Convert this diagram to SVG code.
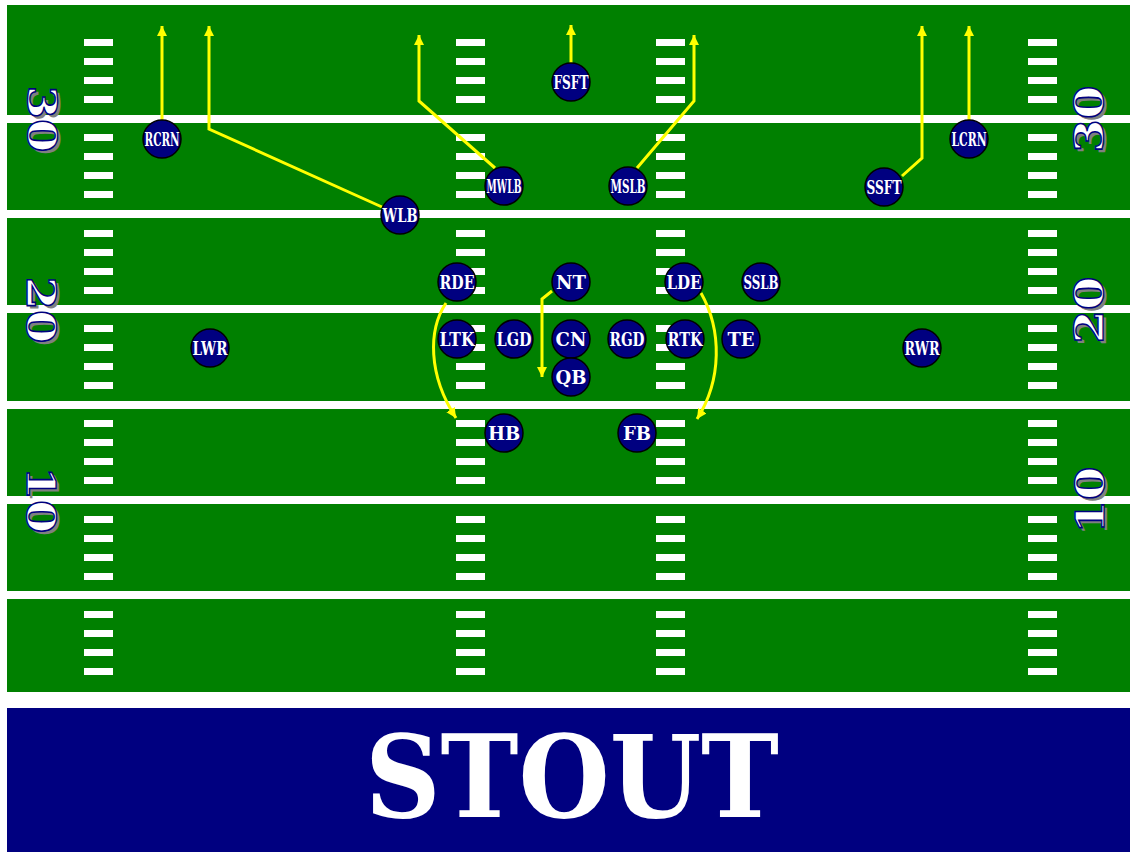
<svg xmlns="http://www.w3.org/2000/svg" xmlns:xlink="http://www.w3.org/1999/xlink" width="1130" height="852" viewBox="0 0 1130 852">
<style>
.field{fill:#008000}
.line{fill:#ffffff}
.hash{fill:#ffffff}
.num{font-family:"DejaVu Serif","Liberation Serif",serif;font-weight:bold;font-size:40px;text-anchor:middle}
.numf{fill:#ffffff;stroke:#000080;stroke-width:1.3}
.nums{fill:#808080}
.pc{fill:#000080;stroke:#000000;stroke-width:1.5}
.pl{font-family:"DejaVu Serif","Liberation Serif",serif;font-weight:bold;font-size:18px;fill:#ffffff;text-anchor:middle}
.route{fill:none;stroke:#ffff00;stroke-width:3;marker-end:url(#arr)}
.title{font-family:"DejaVu Serif","Liberation Serif",serif;font-weight:bold;font-size:114px;fill:#ffffff;text-anchor:middle}
</style>
<defs>
<marker id="arr" markerUnits="userSpaceOnUse" markerWidth="10" markerHeight="10" refX="10" refY="5" orient="auto" viewBox="0 0 10 10">
<path d="M0,0 L10,5 L0,10 z" fill="#ffff00"/>
</marker>
<g id="h4">
<rect class="hash" x="0" y="0" width="29" height="7"/>
<rect class="hash" x="0" y="19" width="29" height="7"/>
<rect class="hash" x="0" y="38" width="29" height="7"/>
<rect class="hash" x="0" y="57" width="29" height="7"/>
</g>
<g id="hcol">
<use xlink:href="#h4" y="39"/>
<use xlink:href="#h4" y="134"/>
<use xlink:href="#h4" y="230"/>
<use xlink:href="#h4" y="325"/>
<use xlink:href="#h4" y="420"/>
<use xlink:href="#h4" y="516"/>
<use xlink:href="#h4" y="611"/>
</g>
</defs>
<rect x="0" y="0" width="1130" height="852" fill="#ffffff"/>
<g id="field">
<rect class="field" x="7" y="5" width="1123" height="687"/>
<rect class="line" x="7" y="115" width="1123" height="8"/>
<rect class="line" x="7" y="210" width="1123" height="8"/>
<rect class="line" x="7" y="305" width="1123" height="8"/>
<rect class="line" x="7" y="401" width="1123" height="8"/>
<rect class="line" x="7" y="496" width="1123" height="8"/>
<rect class="line" x="7" y="591" width="1123" height="8"/>
<use xlink:href="#hcol" x="84"/>
<use xlink:href="#hcol" x="456"/>
<use xlink:href="#hcol" x="656"/>
<use xlink:href="#hcol" x="1028"/>
</g>
<g id="yard-numbers">
<text class="num nums" transform="translate(46,122) rotate(90) scale(1.2,1)" y="14.5">30</text>
<text class="num numf" transform="translate(43,119) rotate(90) scale(1.2,1)" y="14.5">30</text>
<text class="num nums" transform="translate(45,313) rotate(90) scale(1.2,1)" y="14.5">20</text>
<text class="num numf" transform="translate(42,310) rotate(90) scale(1.2,1)" y="14.5">20</text>
<text class="num nums" transform="translate(45,503) rotate(90) scale(1.2,1)" y="14.5">10</text>
<text class="num numf" transform="translate(42,500) rotate(90) scale(1.2,1)" y="14.5">10</text>
<text class="num nums" transform="translate(1091,122) rotate(-90) scale(1.2,1)" y="14.5">30</text>
<text class="num numf" transform="translate(1088,119) rotate(-90) scale(1.2,1)" y="14.5">30</text>
<text class="num nums" transform="translate(1091,313) rotate(-90) scale(1.2,1)" y="14.5">20</text>
<text class="num numf" transform="translate(1088,310) rotate(-90) scale(1.2,1)" y="14.5">20</text>
<text class="num nums" transform="translate(1092,503) rotate(-90) scale(1.2,1)" y="14.5">10</text>
<text class="num numf" transform="translate(1089,500) rotate(-90) scale(1.2,1)" y="14.5">10</text>
</g>
<g id="connectors">
<path class="route" d="M162,120 L162,26"/>
<path class="route" d="M382,207 L209,129 L209,26"/>
<path class="route" d="M495,168 L419,101 L419,35"/>
<path class="route" d="M571,63 L571,25"/>
<path class="route" d="M637,168 L694,101 L694,35"/>
<path class="route" d="M902,176 L922,158 L922,26"/>
<path class="route" d="M969,120 L969,26"/>
<path class="route" d="M552,291 L542,299 L542,377"/>
<path class="route" d="M446,303 C428,330 428,375 456,418"/>
<path class="route" d="M701,293 C722,330 722,380 697,419"/>
</g>
<g id="p-RCRN"><circle class="pc" cx="162" cy="139" r="19"/><text class="pl" x="162" y="145.5" textLength="35" lengthAdjust="spacingAndGlyphs">RCRN</text></g>
<g id="p-WLB"><circle class="pc" cx="400" cy="215" r="19"/><text class="pl" x="400" y="221.5" textLength="35" lengthAdjust="spacingAndGlyphs">WLB</text></g>
<g id="p-MWLB"><circle class="pc" cx="504" cy="186" r="19"/><text class="pl" x="504" y="192.5" textLength="35" lengthAdjust="spacingAndGlyphs">MWLB</text></g>
<g id="p-MSLB"><circle class="pc" cx="628" cy="186" r="19"/><text class="pl" x="628" y="192.5" textLength="35" lengthAdjust="spacingAndGlyphs">MSLB</text></g>
<g id="p-FSFT"><circle class="pc" cx="571" cy="82" r="19"/><text class="pl" x="571" y="88.5" textLength="35" lengthAdjust="spacingAndGlyphs">FSFT</text></g>
<g id="p-SSFT"><circle class="pc" cx="884" cy="187" r="19"/><text class="pl" x="884" y="193.5" textLength="35" lengthAdjust="spacingAndGlyphs">SSFT</text></g>
<g id="p-LCRN"><circle class="pc" cx="969" cy="139" r="19"/><text class="pl" x="969" y="145.5" textLength="35" lengthAdjust="spacingAndGlyphs">LCRN</text></g>
<g id="p-RDE"><circle class="pc" cx="457" cy="282" r="19"/><text class="pl" x="457" y="288.5" textLength="35" lengthAdjust="spacingAndGlyphs">RDE</text></g>
<g id="p-NT"><circle class="pc" cx="571" cy="282" r="19"/><text class="pl" x="571" y="288.5">NT</text></g>
<g id="p-LDE"><circle class="pc" cx="684" cy="282" r="19"/><text class="pl" x="684" y="288.5" textLength="35" lengthAdjust="spacingAndGlyphs">LDE</text></g>
<g id="p-SSLB"><circle class="pc" cx="761" cy="282" r="19"/><text class="pl" x="761" y="288.5" textLength="35" lengthAdjust="spacingAndGlyphs">SSLB</text></g>
<g id="p-LTK"><circle class="pc" cx="457" cy="339" r="19"/><text class="pl" x="457" y="345.5" textLength="35" lengthAdjust="spacingAndGlyphs">LTK</text></g>
<g id="p-LGD"><circle class="pc" cx="514" cy="339" r="19"/><text class="pl" x="514" y="345.5" textLength="35" lengthAdjust="spacingAndGlyphs">LGD</text></g>
<g id="p-CN"><circle class="pc" cx="571" cy="339" r="19"/><text class="pl" x="571" y="345.5">CN</text></g>
<g id="p-RGD"><circle class="pc" cx="627" cy="339" r="19"/><text class="pl" x="627" y="345.5" textLength="35" lengthAdjust="spacingAndGlyphs">RGD</text></g>
<g id="p-RTK"><circle class="pc" cx="685" cy="339" r="19"/><text class="pl" x="685" y="345.5" textLength="35" lengthAdjust="spacingAndGlyphs">RTK</text></g>
<g id="p-TE"><circle class="pc" cx="741" cy="339" r="19"/><text class="pl" x="741" y="345.5">TE</text></g>
<g id="p-QB"><circle class="pc" cx="571" cy="377" r="19"/><text class="pl" x="571" y="383.5">QB</text></g>
<g id="p-HB"><circle class="pc" cx="504" cy="433" r="19"/><text class="pl" x="504" y="439.5">HB</text></g>
<g id="p-FB"><circle class="pc" cx="637" cy="433" r="19"/><text class="pl" x="637" y="439.5">FB</text></g>
<g id="p-LWR"><circle class="pc" cx="210" cy="348" r="19"/><text class="pl" x="210" y="354.5" textLength="35" lengthAdjust="spacingAndGlyphs">LWR</text></g>
<g id="p-RWR"><circle class="pc" cx="922" cy="348" r="19"/><text class="pl" x="922" y="354.5" textLength="35" lengthAdjust="spacingAndGlyphs">RWR</text></g>
<g id="banner">
<rect x="7" y="708" width="1123" height="144" fill="#000080"/>
<text class="title" x="572" y="817" textLength="414" lengthAdjust="spacingAndGlyphs">STOUT</text>
</g>
</svg>
